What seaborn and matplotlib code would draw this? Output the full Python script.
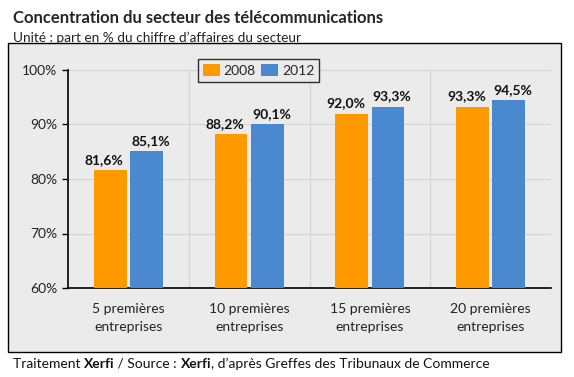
import pandas as pd
import matplotlib
matplotlib.use("Agg")
import matplotlib.pyplot as plt
import seaborn as sns
from matplotlib.patches import Rectangle, Patch
from matplotlib.ticker import FuncFormatter, FixedLocator

categories = ["5 premières\nentreprises", "10 premières\nentreprises",
              "15 premières\nentreprises", "20 premières\nentreprises"]
years = ["2008", "2012"]
values_2008 = [81.6, 88.2, 92.0, 93.3]
values_2012 = [85.1, 90.1, 93.3, 94.5]
colors = {"2008": "#FF9900", "2012": "#4A89D0"}

df = pd.DataFrame({
    "cat": categories * 2,
    "year": ["2008"] * 4 + ["2012"] * 4,
    "val": values_2008 + values_2012,
})

sns.set_style("white")
plt.rcParams["font.family"] = ["Lato", "DejaVu Sans"]

W, H = 574, 377
fig = plt.figure(figsize=(W / 100, H / 100), dpi=100)
fig.patch.set_facecolor("white")

# cadre gris autour du graphique
box = Rectangle((8 / W, 1 - 352 / H), (561 - 8) / W, (352 - 43) / H,
                transform=fig.transFigure, facecolor="#ebebeb",
                edgecolor="black", linewidth=1.0, zorder=-5)
fig.patches.append(box)

ax = fig.add_axes([68 / W, 1 - 288 / H, (551 - 68) / W, (288 - 70) / H])
ax.set_zorder(1)
ax.set_facecolor("#ebebeb")

sns.barplot(data=df, x="cat", y="val", hue="year", palette=colors,
            saturation=1, width=0.6, gap=0.1, linewidth=0,
            ax=ax, legend=False, zorder=3)

ax.set_ylim(60, 100)
ax.set_xlim(-0.5, 3.5)
ax.set_yticks([60, 70, 80, 90, 100])
ax.yaxis.set_major_formatter(FuncFormatter(lambda v, p: f"{int(v)}%"))
ax.grid(axis="y", color="#d4d4d4", linewidth=0.8, zorder=0)
ax.xaxis.set_minor_locator(FixedLocator([0.5, 1.5, 2.5, 3.5]))
ax.grid(axis="x", which="minor", color="#d4d4d4", linewidth=0.8, zorder=0)
ax.tick_params(axis="x", which="major", length=0, labelbottom=False)
ax.tick_params(axis="x", which="minor", length=5, width=1, color="black",
               direction="out")
ax.tick_params(axis="y", length=4, width=1, color="black", direction="out",
               labelsize=10, labelcolor="#222222", left=True)
ax.set_xlabel("")
ax.set_ylabel("")
for s in ["top", "right"]:
    ax.spines[s].set_visible(False)
for s in ["left", "bottom"]:
    ax.spines[s].set_color("black")
    ax.spines[s].set_linewidth(1.2)

# étiquettes de catégories (interligne plus large que par défaut)
for i, cat in enumerate(categories):
    ax.annotate(cat, (i, 0), xycoords=ax.get_xaxis_transform(),
                xytext=(0, -10.5), textcoords="offset points",
                ha="center", va="top", fontsize=10, color="#222222",
                linespacing=1.6, annotation_clip=False)

# étiquettes de valeur, légèrement décalées vers l'extérieur
shifts = [-4.5, 3]
for cont, dx in zip(ax.containers, shifts):
    for bar in cont:
        h = bar.get_height()
        ax.annotate(f"{h:.1f}%".replace(".", ","),
                    (bar.get_x() + bar.get_width() / 2, h),
                    xytext=(dx, 3), textcoords="offset points",
                    ha="center", va="bottom", fontsize=10,
                    fontweight="bold", color="#111111")

handles = [Patch(facecolor=colors[y], edgecolor="none") for y in years]
leg = fig.legend(handles, years, loc="upper left",
                 bbox_to_anchor=(198 / W, 1 - 59 / H), ncol=2,
                 frameon=True, fancybox=False, fontsize=10,
                 handlelength=1.2, handleheight=1.0, handletextpad=0.3,
                 columnspacing=0.4, borderpad=0.35, borderaxespad=0)
leg.get_frame().set_edgecolor("black")
leg.get_frame().set_facecolor("#ebebeb")
leg.get_frame().set_linewidth(1.0)
leg.set_zorder(5)

fig.text(13 / W, 1 - 18 / H, "Concentration du secteur des télécommunications",
         fontsize=12, fontweight="bold", va="center", ha="left")
fig.text(13 / W, 1 - 38 / H, "Unité : part en % du chiffre d’affaires du secteur",
         fontsize=9.8, va="center", ha="left", color="#222222")

# pied de page avec parties en gras
parts = [("Traitement ", "normal"), ("Xerfi", "bold"), (" / Source : ", "normal"),
         ("Xerfi", "bold"), (", d’après Greffes des Tribunaux de Commerce", "normal")]
renderer = fig.canvas.get_renderer()
x = 13
for txt, wt in parts:
    t = fig.text(x / W, 1 - 364 / H, txt, fontsize=10, fontweight=wt,
                 va="center", ha="left", color="#111111")
    x = t.get_window_extent(renderer).x1

fig.savefig("out.png", dpi=100)
